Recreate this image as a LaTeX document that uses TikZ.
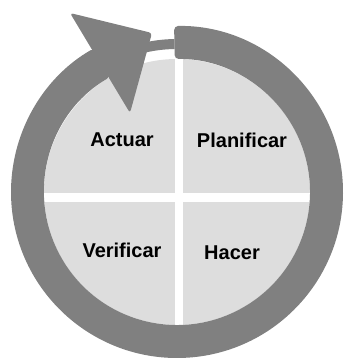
\documentclass[tikz,border=0pt]{standalone}
\usepackage{fontspec}
\setmainfont{Liberation Sans}
\usepackage{xcolor}
\usetikzlibrary{positioning,calc}

\definecolor{ringgray}{HTML}{808080}
\definecolor{diskgray}{HTML}{DDDDDD}

\begin{document}
\begin{tikzpicture}[
    x=1pt, y=1pt,
    ring/.style={fill=ringgray, draw=none},
    disk/.style={fill=diskgray, draw=none},
    gap/.style={fill=white, draw=none},
    label/.style={font=\fontsize{20}{24}\selectfont\bfseries, inner sep=0pt}
]
    \useasboundingbox (0,0) rectangle (344,358);

    % Centre of the cycle
    \coordinate (c) at (177,166);

    % Inner disk with the four quadrants
    \fill[disk] (c) circle[radius=133];
    \begin{scope}
        \clip (c) circle[radius=133];
        \fill[gap] (175,0) rectangle (183,358);
        \fill[gap] (0,156.3) rectangle (344,164.7);
    \end{scope}

    % Ring
    \fill[ring, shift={(c)}, rounded corners=4pt]
        (91:166) arc[start angle=91, end angle=-240, radius=166]
        -- (-240:133) arc[start angle=-240, end angle=91, radius=133] -- cycle;

    % Thin shaft under the arrowhead
    \fill[ring, shift={(c)}]
        (91:153) arc[start angle=91, end angle=104, radius=153]
        -- (104:143) arc[start angle=104, end angle=91, radius=143] -- cycle;

    % Arrowhead
    \fill[ring, rounded corners=3pt] (70,345) -- (152,325) -- (130,245) -- cycle;

    % Labels
    \node[label] (actuar) at (122,218.5) {Actuar};
    \node[label] (planificar) at (242,218) {Planificar};
    \node[label] (verificar) at (122,107.5) {Verificar};
    \node[label] (hacer) at (232,105.5) {Hacer};

\end{tikzpicture}
\end{document}
